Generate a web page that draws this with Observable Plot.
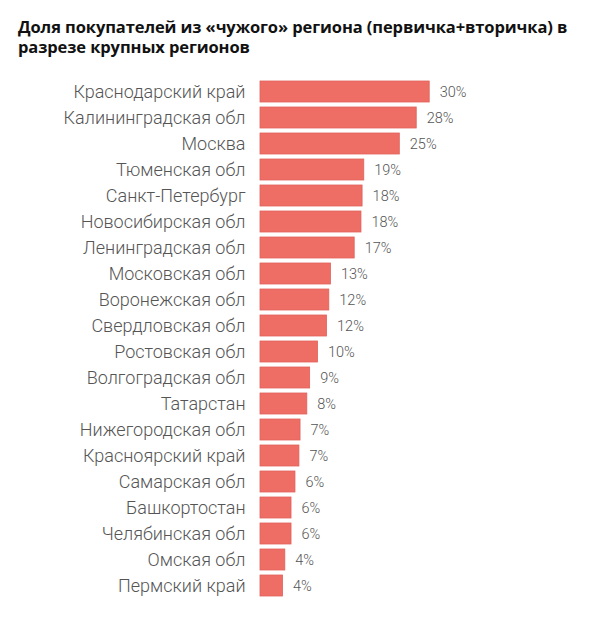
<!DOCTYPE html>
<html>
<head>
<meta charset="utf-8">
<script src="https://cdn.jsdelivr.net/npm/d3@7"></script>
<script src="https://cdn.jsdelivr.net/npm/@observablehq/plot@0.6"></script>
<style>
  html, body { margin: 0; padding: 0; background: #fff; width: 595px; height: 618px; overflow: hidden; }
  #title { position: absolute; left: 18px; top: 17px; width: 575px; font-family: "Open Sans", "Inter", sans-serif; font-weight: 700; font-size: 16.5px; line-height: 20px; color: #111; letter-spacing: -0.1px; }
  #chart { position: absolute; left: 0; top: 66px; }
</style>
</head>
<body>
<div id="title">Доля покупателей из «чужого» региона (первичка+вторичка) в разрезе крупных регионов</div>
<div id="chart"></div>
<script>
const regions = [
  "Краснодарский край", "Калининградская обл", "Москва", "Тюменская обл", "Санкт-Петербург",
  "Новосибирская обл", "Ленинградская обл", "Московская обл", "Воронежская обл", "Свердловская обл",
  "Ростовская обл", "Волгоградская обл", "Татарстан", "Нижегородская обл", "Красноярский край",
  "Самарская обл", "Башкортостан", "Челябинская обл", "Омская обл", "Пермский край"
];
// bar lengths (percent)
const values = [30.0, 27.7, 24.7, 18.4, 18.1, 17.9, 16.7, 12.5, 12.2, 11.8, 10.2, 8.8, 8.3, 7.1, 6.9, 6.2, 5.5, 5.5, 4.4, 4.0];
// labels printed next to the bars
const labels = ["30%", "28%", "25%", "19%", "18%", "18%", "17%", "13%", "12%", "12%", "10%", "9%", "8%", "7%", "7%", "6%", "6%", "6%", "4%", "4%"];

const data = regions.map((r, i) => ({region: r, value: values[i], label: labels[i]}));

const chart = Plot.plot({
  width: 595,
  height: 552,
  marginLeft: 260,
  marginRight: 53,
  marginTop: 4,
  marginBottom: 12,
  style: {fontFamily: "Roboto, sans-serif", background: "#fff"},
  x: {domain: [0, 50], axis: null},
  y: {domain: regions, padding: 0.21, label: null},
  marks: [
    Plot.barX(data, {x: "value", y: "region", fill: "#ee6d64", stroke: "#e0625a", strokeWidth: 0.8}),
    Plot.text(data, {x: "value", y: "region", text: "label", textAnchor: "start", dx: 10, fontSize: 14.5, fontWeight: 300, fill: "#555"}),
    Plot.axisY({tickSize: 0, tickPadding: 15, fontSize: 18, fontWeight: 300, color: "#555", label: null})
  ]
});
document.getElementById("chart").appendChild(chart);
</script>
</body>
</html>
